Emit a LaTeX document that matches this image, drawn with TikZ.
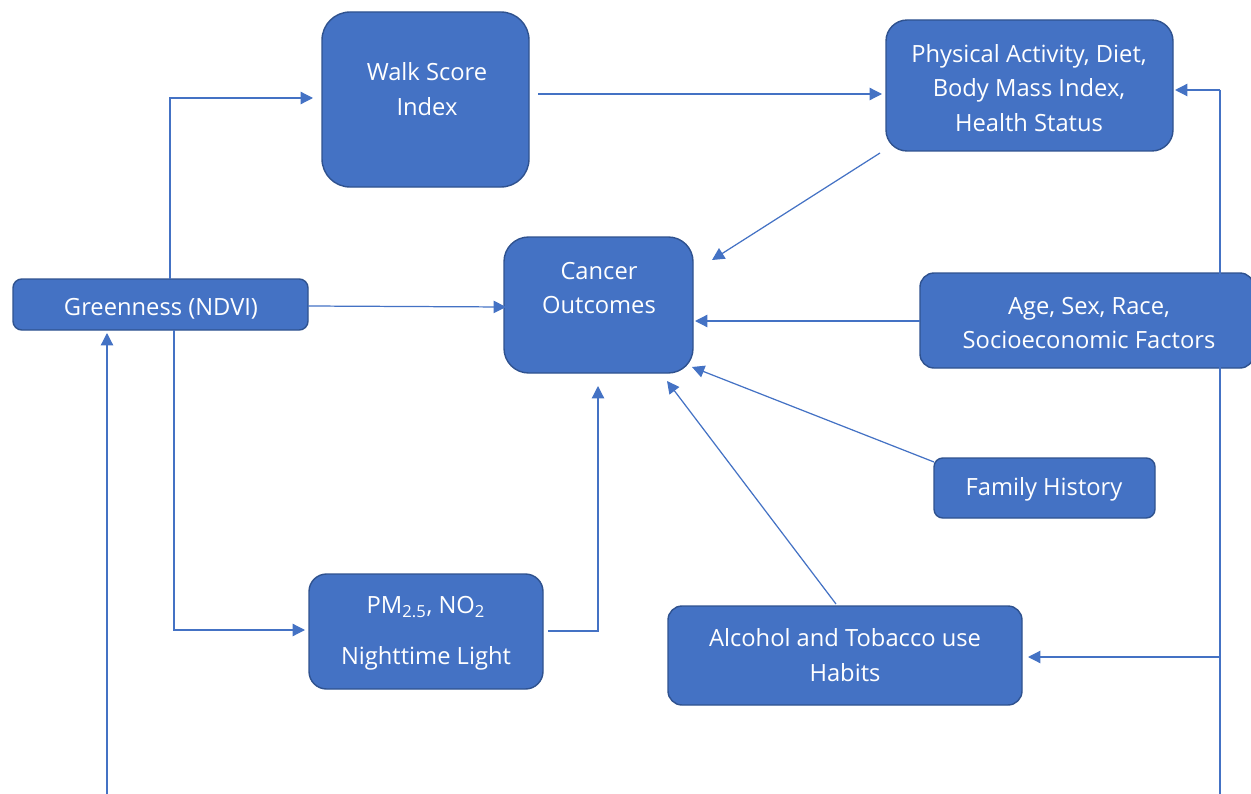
\documentclass[tikz,border=0pt]{standalone}
\usepackage{fontspec}
\setmainfont{Open Sans}
\usetikzlibrary{arrows.meta}
\definecolor{boxfill}{HTML}{4472C4}
\definecolor{boxdraw}{HTML}{2F528F}
\definecolor{linec}{HTML}{4472C4}
\tikzset{
  box/.style={draw=boxdraw, fill=boxfill, line width=0.8pt, inner sep=0pt},
  lbl/.style={text=white, align=center, font=\fontsize{13.5}{19.6}\selectfont, inner sep=0pt},
  arr/.style={draw=linec, line width=0.7pt, -{Triangle[length=7pt,width=7pt]}},
  ln/.style={draw=linec, line width=0.7pt}
}
\begin{document}
\begin{tikzpicture}[x=0.02cm,y=-0.02cm]
\useasboundingbox (0,0) rectangle (1251,794);
% boxes
\node[box, rounded corners=16pt, minimum width={207*0.02cm}, minimum height={175*0.02cm}] (walk) at (425.5,99.5) {};
\node[lbl] (walkt) at (427,89) {Walk Score\\Index};
\node[box, rounded corners=12pt, minimum width={287*0.02cm}, minimum height={131*0.02cm}] (phys) at (1029.5,85.5) {};
\node[lbl] (physt) at (1029,88) {Physical Activity, Diet,\\Body Mass Index,\\Health Status};
\node[box, rounded corners=5pt, minimum width={295*0.02cm}, minimum height={51*0.02cm}] (green) at (160.5,304.5) {};
\node[lbl] (greent) at (161,309) {Greenness (NDVI)};
\node[box, rounded corners=14pt, minimum width={189*0.02cm}, minimum height={136*0.02cm}] (cancer) at (598.5,305) {};
\node[lbl] (cancert) at (599,288) {Cancer\\Outcomes};
\node[box, rounded corners=8pt, minimum width={334*0.02cm}, minimum height={95*0.02cm}] (age) at (1087,320.5) {};
\node[lbl] (aget) at (1089,323) {Age, Sex, Race,\\Socioeconomic Factors};
\node[box, rounded corners=5pt, minimum width={221*0.02cm}, minimum height={60*0.02cm}] (fam) at (1044.5,488) {};
\node[lbl] (famt) at (1044,489) {Family History};
\node[box, rounded corners=10pt, minimum width={234*0.02cm}, minimum height={115*0.02cm}] (pm) at (426,631.5) {};
\node[lbl, font=\fontsize{13.5}{29}\selectfont] (pmt) at (426,633) {PM\textsubscript{2.5}, NO\textsubscript{2}\\Nighttime Light};
\node[box, rounded corners=8pt, minimum width={354*0.02cm}, minimum height={99*0.02cm}] (alc) at (845,655.5) {};
\node[lbl] (alct) at (845,655) {Alcohol and Tobacco use\\Habits};
% free-end coordinates
\coordinate (gTop) at (170,279);
\coordinate (walkIn) at (313,98);
\coordinate (walkOut) at (538,94);
\coordinate (physIn) at (882,94);
\coordinate (physOut) at (880,153);
\coordinate (cancerTR) at (712,260);
\coordinate (greenOut) at (308,306);
\coordinate (cancerL) at (506,307);
\coordinate (ageOut) at (920,321);
\coordinate (cancerR) at (695,321);
\coordinate (famOut) at (934,462);
\coordinate (cancerBR) at (692,367);
\coordinate (alcOut) at (836,604);
\coordinate (cancerB2) at (667,381);
\coordinate (pmOut) at (548,631);
\coordinate (cancerB) at (598,386);
\coordinate (gBot) at (174,330);
\coordinate (pmIn) at (305,630);
\coordinate (leftBot) at (107,794);
\coordinate (greenIn) at (107,333);
\coordinate (rightTop) at (1220,90);
\coordinate (rightBot) at (1220,794);
\coordinate (physR) at (1175,90);
\coordinate (alcR) at (1028,657);
\coordinate (rightMid) at (1220,657);
% connectors
\draw[arr] (gTop) |- (walkIn);
\draw[arr] (walkOut) -- (physIn);
\draw[arr] (physOut) -- (cancerTR);
\draw[arr] (greenOut) -- (cancerL);
\draw[arr] (ageOut) -- (cancerR);
\draw[arr] (famOut) -- (cancerBR);
\draw[arr] (alcOut) -- (cancerB2);
\draw[arr] (pmOut) -| (cancerB);
\draw[arr] (gBot) |- (pmIn);
\draw[arr] (leftBot) -- (greenIn);
\draw[ln] (rightTop) -- (rightBot);
\draw[arr] (rightTop) -- (physR);
\draw[arr] (rightMid) -- (alcR);
\end{tikzpicture}
\end{document}
